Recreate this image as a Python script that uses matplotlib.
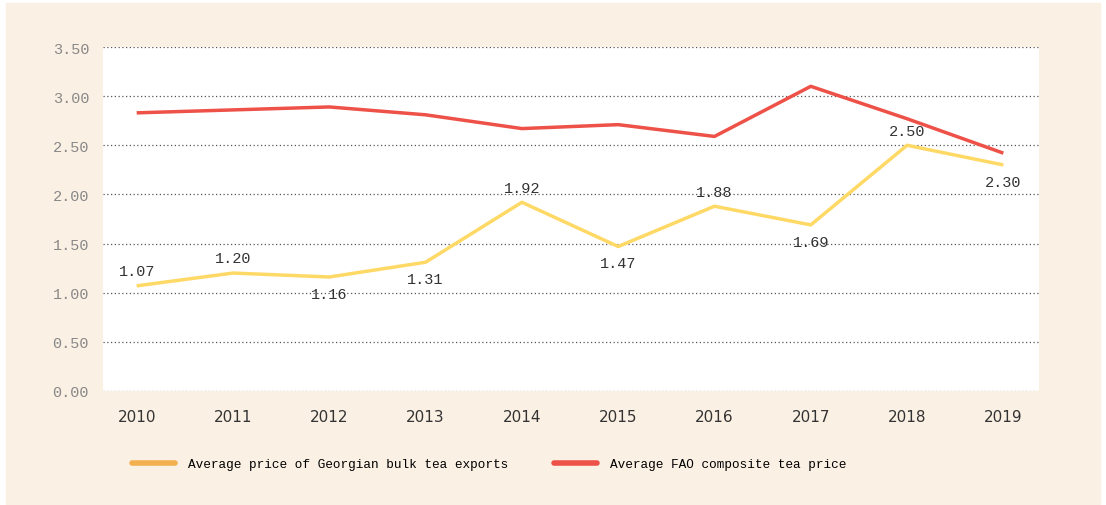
import matplotlib.pyplot as plt
from matplotlib.patches import Rectangle
from matplotlib.lines import Line2D

years = ["2010", "2011", "2012", "2013", "2014", "2015", "2016", "2017", "2018", "2019"]
georgian = [1.07, 1.20, 1.16, 1.31, 1.92, 1.47, 1.88, 1.69, 2.50, 2.30]
fao = [2.83, 2.86, 2.89, 2.81, 2.67, 2.71, 2.59, 3.10, 2.77, 2.42]
# label above (1) or below (-1) the point
label_side = [1, 1, -1, -1, 1, -1, 1, -1, 1, -1]

cream = "#FBF0E4"
yellow = "#FFD966"
yellow_legend = "#F2B04F"
red = "#EE5147"
mono = "Liberation Mono"

fig = plt.figure(figsize=(11.06, 5.06), dpi=100)
fig.patches.append(Rectangle((6 / 1106, 1 / 506), 1094 / 1106, 501 / 506,
                             transform=fig.transFigure, color=cream, zorder=-1))

ax = fig.add_axes([103 / 1106, 1 - 392 / 506, 936 / 1106, 344 / 506])
x = list(range(len(years)))
ax.plot(x, fao, color=red, lw=2.5, solid_capstyle="butt")
ax.plot(x, georgian, color=yellow, lw=2.5, solid_capstyle="butt")

for i, v in enumerate(georgian):
    off = 10.5 if label_side[i] > 0 else -12
    ax.annotate(f"{v:.2f}", (i, v), xytext=(0, off), textcoords="offset points",
                ha="center", va="center", fontsize=11, family=mono, color="#333333")

ax.set_xlim(-0.35, 9.37)
ax.set_ylim(0, 3.5)
ax.set_yticks([0, 0.5, 1, 1.5, 2, 2.5, 3, 3.5])
ax.set_yticklabels([f"{t:.2f}" for t in ax.get_yticks()], family=mono, fontsize=11, color="#888888")
ax.set_xticks(x)
ax.set_xticklabels(years, fontsize=11, color="#333333")
ax.tick_params(length=0, pad=10)
ax.tick_params(axis="x", pad=13)
ax.grid(axis="y", linestyle=(0, (1, 2)), color="#555555", lw=0.9)
ax.set_axisbelow(True)
for s in ax.spines.values():
    s.set_visible(False)

handles = [Line2D([], [], color=yellow_legend, lw=4, solid_capstyle="round"),
           Line2D([], [], color=red, lw=4, solid_capstyle="round")]
fig.legend(handles, ["Average price of Georgian bulk tea exports", "Average FAO composite tea price"],
           loc="center left", bbox_to_anchor=(120 / 1106, 1 - 465 / 506), ncol=2, frameon=False,
           prop={"family": mono, "size": 9.2}, handlelength=3.4, handletextpad=1.0, columnspacing=3.6)

fig.savefig("out.png", dpi=100)
